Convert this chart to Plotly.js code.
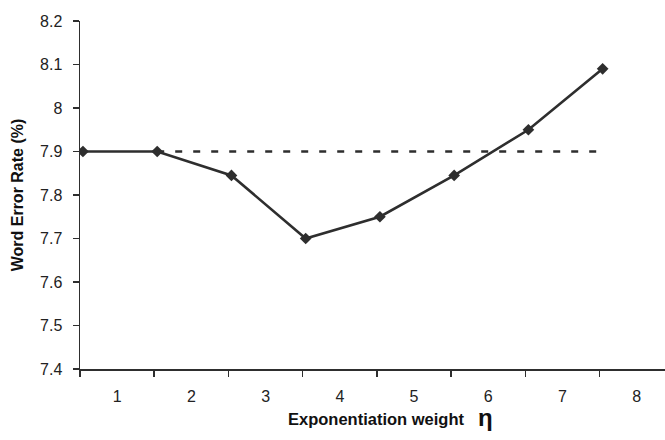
<!DOCTYPE html>
<html>
<head>
<meta charset="utf-8">
<script src="https://cdn.plot.ly/plotly-3.0.1.min.js"></script>
<style>html,body{margin:0;padding:0;background:#fff;}#chart{width:665px;height:440px;}</style>
</head>
<body>
<div id="chart"></div>
<script>
// Exponentiation weight categories (labels shown between tick marks)
const etaLabels = ['1', '2', '3', '4', '5', '6', '7', '8'];
// Point positions (index of the tick boundary each point sits on)
const etaIndex = [0, 1, 2, 3, 4, 5, 6, 7];
// Word error rate (%) per point
const wer = [7.90, 7.90, 7.845, 7.70, 7.75, 7.845, 7.95, 8.09];
// Baseline (dashed) word error rate and its extent
const baselineX = [1, 7];
const baselineY = [7.90, 7.90];
const yTicks = [7.4, 7.5, 7.6, 7.7, 7.8, 7.9, 8, 8.1, 8.2];

const ink = '#2e2e2e';
const font = "Arial, 'Liberation Sans', sans-serif";

const traces = [
  {
    x: baselineX, y: baselineY, type: 'scatter', mode: 'lines',
    line: {color: ink, width: 2.4, dash: '7px,11px'},
    hoverinfo: 'skip', showlegend: false
  },
  {
    x: etaIndex, y: wer, type: 'scatter', mode: 'lines+markers',
    line: {color: ink, width: 2.6},
    marker: {symbol: 'diamond', size: 9, color: ink},
    showlegend: false
  }
];

const labelPos = etaLabels.map((_, i) => i + 0.46);

const layout = {
  width: 665, height: 440,
  margin: {l: 80, r: 0, t: 21, b: 71},
  paper_bgcolor: '#fff', plot_bgcolor: '#fff',
  font: {family: font, color: '#222', size: 16},
  xaxis: {
    range: [-0.04, 7.84],
    showgrid: false, zeroline: false,
    showline: true, linecolor: ink, linewidth: 1.5,
    tickmode: 'array', tickvals: labelPos, ticktext: etaLabels,
    ticks: '', ticklabelstandoff: 12,
    tickfont: {size: 16, family: font, color: '#222'},
    minor: {ticks: 'outside', tick0: -0.04, dtick: 1, ticklen: 6, tickwidth: 1.5, tickcolor: ink, showgrid: false}
  },
  yaxis: {
    range: [7.4, 8.2],
    showgrid: false, zeroline: false,
    showline: true, linecolor: ink, linewidth: 1.5,
    tickmode: 'array', tickvals: yTicks,
    ticks: 'outside', ticklen: 6, tickwidth: 1.5, tickcolor: ink,
    ticklabelstandoff: 7,
    tickfont: {size: 16, family: font, color: '#222'},
    title: {text: '<b>Word Error Rate (%)</b>', font: {size: 16, family: font, color: '#111'}, standoff: 12}
  },
  annotations: [
    {
      xref: 'paper', yref: 'paper', x: 0.662, y: -0.145,
      xanchor: 'right', yanchor: 'middle', showarrow: false,
      text: '<b>Exponentiation weight</b>',
      font: {size: 16.5, family: font, color: '#111'}
    },
    {
      xref: 'paper', yref: 'paper', x: 0.677, y: -0.14,
      xanchor: 'left', yanchor: 'middle', showarrow: false,
      text: '<b>η</b>',
      font: {size: 24, family: font, color: '#111'}
    }
  ]
};

Plotly.newPlot('chart', traces, layout, {displayModeBar: false, staticPlot: true});
</script>
</body>
</html>
